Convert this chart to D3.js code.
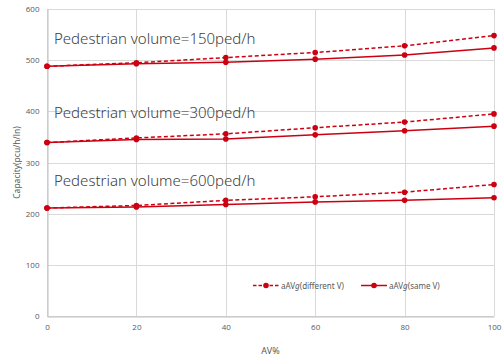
<!DOCTYPE html>
<html>
<head>
<meta charset="utf-8">
<script src="https://d3js.org/d3.v7.min.js"></script>
<style>
  html, body { margin: 0; padding: 0; background: #fff; }
  svg { display: block; font-family: "Noto Sans", "DejaVu Sans", sans-serif; }
</style>
</head>
<body>
<svg id="chart" width="503" height="360"></svg>
<script>
// ── 数据 ─────────────────────────────────────────
const avPct = [0, 20, 40, 60, 80, 100];
const xTicks = [0, 20, 40, 60, 80, 100];
const yTicks = [0, 100, 200, 300, 400, 500, 600];

// dashed: aAVg(different V), solid: aAVg(same V)
const diff150 = [488, 495, 505, 515, 528, 548];
const same150 = [488, 493, 496, 502, 510, 524];
const diff300 = [339, 348, 356, 368, 379, 395];
const same300 = [339, 345, 346, 354, 362, 371];
const diff600 = [211, 216, 226, 233, 242, 257];
const same600 = [211, 213, 218, 223, 226, 231];

const groups = [
    { label: "Pedestrian volume=150ped/h", labelY: 532, diff: diff150, same: same150 },
    { label: "Pedestrian volume=300ped/h", labelY: 387, diff: diff300, same: same300 },
    { label: "Pedestrian volume=600ped/h", labelY: 254, diff: diff600, same: same600 },
];

const legendItems = [
    { name: "different V", dashed: true },
    { name: "same V", dashed: false },
];

const RED = "#cc0011";
const GRID = "#d9d9d9";
const TXT = "#595959";

// ── 画布 ─────────────────────────────────────────
const svg = d3.select("#chart");
const margin = { left: 47, right: 9, top: 9, bottom: 44 };
const W = 503, H = 360;

const x = d3.scaleLinear().domain([0, 100]).range([margin.left, W - margin.right]);
const y = d3.scaleLinear().domain([0, 600]).range([H - margin.bottom, margin.top]);

// 网格
const grid = svg.append("g");
grid.selectAll(".hg").data(yTicks).join("line")
    .attr("x1", x(0)).attr("x2", x(100))
    .attr("y1", d => Math.round(y(d)) + 0.5).attr("y2", d => Math.round(y(d)) + 0.5)
    .attr("stroke", GRID).attr("stroke-width", 1);
grid.selectAll(".vg").data(xTicks).join("line")
    .attr("x1", d => Math.round(x(d)) + 0.5).attr("x2", d => Math.round(x(d)) + 0.5)
    .attr("y1", y(0)).attr("y2", y(600))
    .attr("stroke", GRID).attr("stroke-width", 1);

// 轴
const xAxis = svg.append("g")
    .attr("transform", `translate(0,${Math.round(y(0)) + 0.5})`)
    .call(d3.axisBottom(x).tickValues(xTicks).tickSize(0).tickPadding(8));
const yAxis = svg.append("g")
    .attr("transform", `translate(${Math.round(x(0)) + 0.5},0)`)
    .call(d3.axisLeft(y).tickValues(yTicks).tickSize(0).tickPadding(8));
[xAxis, yAxis].forEach(a => {
    a.select(".domain").attr("stroke", "#bfbfbf");
    a.selectAll("text").attr("fill", TXT).attr("font-size", "8px")
        .attr("font-family", "'Open Sans', 'Noto Sans', sans-serif");
});

// 轴标题
svg.append("text")
    .attr("x", (x(0) + x(100)) / 2).attr("y", 354)
    .attr("text-anchor", "middle").attr("fill", TXT).attr("font-size", "9px")
    .text("AV%");
svg.append("text")
    .attr("transform", `translate(20,${(y(0) + y(600)) / 2}) rotate(-90)`)
    .attr("text-anchor", "middle").attr("fill", TXT).attr("font-size", "8.5px")
    .text("Capacity(pcu/h/ln)");

// ── 折线 ─────────────────────────────────────────
const line = d3.line().x((d, i) => x(avPct[i])).y(d => y(d));

function drawSeries(vals, dashed) {
    const g = svg.append("g");
    g.append("path")
        .datum(vals)
        .attr("d", line)
        .attr("fill", "none")
        .attr("stroke", RED)
        .attr("stroke-width", 1.5)
        .attr("stroke-dasharray", dashed ? "4,2.5" : null);
    g.selectAll("circle").data(vals).join("circle")
        .attr("cx", (d, i) => x(avPct[i]))
        .attr("cy", d => y(d))
        .attr("r", 2.8)
        .attr("fill", RED);
}

groups.forEach(gr => {
    drawSeries(gr.diff, true);
    drawSeries(gr.same, false);
    svg.append("text")
        .attr("x", 54).attr("y", y(gr.labelY))
        .attr("fill", "#404040").attr("font-size", "15px")
        .attr("font-weight", 300)
        .text(gr.label);
});

// ── 图例 ─────────────────────────────────────────
const legendX = [253, 361];
const legendY = 285.5;
legendItems.forEach((it, i) => {
    const lg = svg.append("g").attr("transform", `translate(${legendX[i]},${legendY})`);
    lg.append("line")
        .attr("x1", 0).attr("x2", 26).attr("y1", 0).attr("y2", 0)
        .attr("stroke", RED).attr("stroke-width", 1.5)
        .attr("stroke-dasharray", it.dashed ? "3.5,2" : null);
    lg.append("circle").attr("cx", 13).attr("cy", 0).attr("r", 2.8).attr("fill", RED);
    const t = lg.append("text")
        .attr("x", 28).attr("y", 3)
        .attr("fill", TXT).attr("font-size", "8px");
    t.append("tspan").text("aAV");
    t.append("tspan").attr("font-style", "italic").text("g");
    t.append("tspan").text(`(${it.name})`);
});
</script>
</body>
</html>
